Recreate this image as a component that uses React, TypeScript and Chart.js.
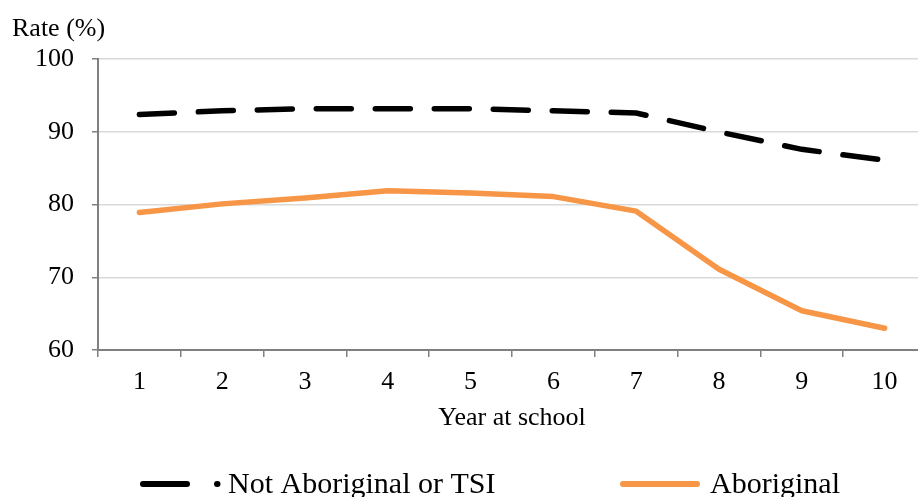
import React, { useEffect, useRef } from "react";
import { Chart, registerables } from "chart.js";

Chart.register(...registerables);

const categories = ["1", "2", "3", "4", "5", "6", "7", "8", "9", "10"];
const notAboriginal = [92.4, 92.9, 93.2, 93.2, 93.2, 92.9, 92.6, 90.0, 87.6, 86.1];
const aboriginal = [78.9, 80.1, 80.9, 81.9, 81.6, 81.1, 79.1, 71.1, 65.4, 63.0];
const seriesNames = ["Not Aboriginal or TSI", "Aboriginal"];
const yMin = 60;
const yMax = 100;
const yStep = 10;
const yAxisLabel = "Rate (%)";
const xAxisLabel = "Year at school";

const FONT = "'Liberation Serif', 'DejaVu Serif', serif";
const TEXT = "#000000";
const AXIS = "#808080";

const legendPlugin = {
  id: "customLegend",
  afterDraw(chart: any) {
    const ctx = chart.ctx;
    const ds0 = chart.data.datasets[0];
    const ds1 = chart.data.datasets[1];
    const y = 484;
    ctx.save();
    ctx.lineWidth = 6;
    ctx.lineCap = "round";
    ctx.strokeStyle = ds0.borderColor;
    ctx.setLineDash([44, 30]);
    ctx.beginPath();
    ctx.moveTo(143, y);
    ctx.lineTo(217.5, y);
    ctx.stroke();
    ctx.setLineDash([]);
    ctx.strokeStyle = ds1.borderColor;
    ctx.beginPath();
    ctx.moveTo(623, y);
    ctx.lineTo(697, y);
    ctx.stroke();
    ctx.font = `30px ${FONT}`;
    ctx.fillStyle = TEXT;
    ctx.textAlign = "left";
    ctx.textBaseline = "alphabetic";
    ctx.fillText(ds0.label, 228, 493);
    ctx.fillText(ds1.label, 710, 493);
    ctx.restore();
  },
};

export default function App() {
  const ref = useRef<HTMLCanvasElement | null>(null);

  useEffect(() => {
    if (!ref.current) return;
    const font = { family: FONT, size: 26, weight: "normal" as const };
    const chart = new Chart(ref.current, {
      type: "line",
      data: {
        labels: categories,
        datasets: [
          {
            label: seriesNames[0],
            data: notAboriginal,
            borderColor: "#000000",
            backgroundColor: "#000000",
            borderWidth: 5.5,
            borderDash: [35, 24],
            borderCapStyle: "round",
            pointRadius: 0,
            tension: 0,
          },
          {
            label: seriesNames[1],
            data: aboriginal,
            borderColor: "#F79646",
            backgroundColor: "#F79646",
            borderWidth: 5.5,
            borderCapStyle: "round",
            borderJoinStyle: "round",
            pointRadius: 0,
            tension: 0,
          },
        ],
      },
      options: {
        responsive: false,
        animation: false,
        devicePixelRatio: 1,
        layout: { padding: { left: 12, right: 14, top: 0, bottom: 0 } },
        plugins: {
          legend: { display: false },
          tooltip: { enabled: false },
          title: {
            display: true,
            text: yAxisLabel,
            align: "start",
            color: TEXT,
            font,
            padding: { top: 14, bottom: 14 },
          },
        },
        scales: {
          x: {
            offset: true,
            grid: {
              offset: true,
              drawOnChartArea: false,
              drawTicks: true,
              tickLength: 7,
              tickColor: AXIS,
              lineWidth: 1.5,
            },
            border: { color: AXIS, width: 2 },
            ticks: { font, color: TEXT, padding: 10 },
            title: {
              display: true,
              text: xAxisLabel,
              font,
              color: TEXT,
              padding: { top: 0, bottom: 63 },
            },
            afterFit: (s: any) => {
              s.height = 147;
            },
          },
          y: {
            min: yMin,
            max: yMax,
            ticks: { stepSize: yStep, font, color: TEXT, padding: 18 },
            grid: { color: "#d9d9d9", lineWidth: 1.5, tickColor: AXIS, tickLength: 6 },
            border: { color: AXIS, width: 2 },
            afterFit: (s: any) => {
              s.width = 86;
            },
          },
        },
      },
      plugins: [legendPlugin],
    });
    return () => chart.destroy();
  }, []);

  return (
    <div
      style={{
        position: "fixed",
        left: 0,
        top: 0,
        width: 918,
        height: 497,
        overflow: "hidden",
        background: "#ffffff",
      }}
    >
      <canvas ref={ref} width={940} height={497} style={{ width: 940, height: 497, display: "block" }} />
    </div>
  );
}
